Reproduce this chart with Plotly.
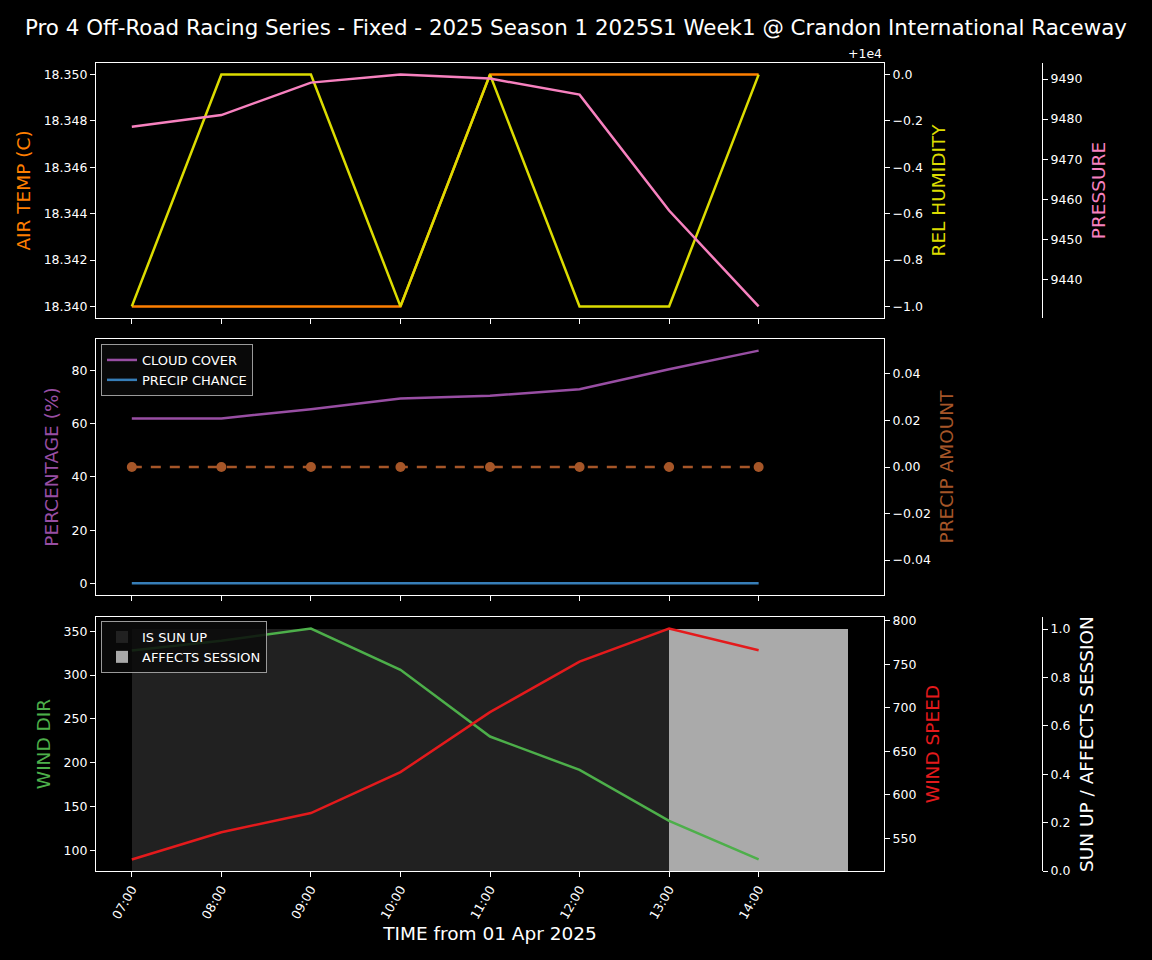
import plotly.graph_objects as go

# ---------------- data ----------------
times = ["2025-04-01 07:00", "2025-04-01 08:00", "2025-04-01 09:00", "2025-04-01 10:00",
         "2025-04-01 11:00", "2025-04-01 12:00", "2025-04-01 13:00", "2025-04-01 14:00"]
tick_labels = ["07:00", "08:00", "09:00", "10:00", "11:00", "12:00", "13:00", "14:00"]
air_temp = [18.34, 18.34, 18.34, 18.34, 18.35, 18.35, 18.35, 18.35]
rel_humidity = [9999, 10000, 10000, 9999, 10000, 9999, 9999, 10000]
pressure = [9478.1, 9481.0, 9489.1, 9491.1, 9490.1, 9486.1, 9457.2, 9433.3]
cloud_cover = [62, 62, 65.5, 69.5, 70.5, 73, 80.5, 87.5]
precip_chance = [0, 0, 0, 0, 0, 0, 0, 0]
precip_amount = [0, 0, 0, 0, 0, 0, 0, 0]
wind_dir = [328, 339, 353, 306, 230, 192, 134, 90]
wind_speed = [525.7, 557, 579, 626, 695, 753, 791, 766]
is_sun_up = [1, 1, 1, 1, 1, 1, 1, 1]
affects_session = [0, 0, 0, 0, 0, 0, 1, 1]
hum_ticks = [-1.0, -0.8, -0.6, -0.4, -0.2, 0.0]
hum_offset = 10000

title = "Pro 4 Off-Road Racing Series - Fixed - 2025 Season 1 2025S1 Week1 @ Crandon International Raceway"

C_TEMP = "#ff7f00"
C_HUM = "#dcdc00"
C_PRES = "#f781bf"
C_CLOUD = "#984ea3"
C_PCHANCE = "#377eb8"
C_PAMT = "#a65628"
C_WDIR = "#4daf4a"
C_WSPD = "#e41a1c"
FONT = "DejaVu Sans"


def pad(lo, hi, m=0.05):
    d = hi - lo
    return [lo - m * d, hi + m * d]


W, H = 1152, 960
xl, xr = 96 / W, 884 / W
xfar = 1042 / W
dom1 = [1 - 318 / H, 1 - 63 / H]
dom2 = [1 - 595 / H, 1 - 339 / H]
dom3 = [1 - 871 / H, 1 - 617 / H]

fig = go.Figure()
lw = 2.5

# panel 1
fig.add_trace(go.Scatter(x=times, y=air_temp, mode="lines", line=dict(color=C_TEMP, width=lw),
                         xaxis="x", yaxis="y", showlegend=False, name="AIR TEMP"))
fig.add_trace(go.Scatter(x=times, y=rel_humidity, mode="lines", line=dict(color=C_HUM, width=lw),
                         xaxis="x", yaxis="y2", showlegend=False, name="REL HUMIDITY"))
fig.add_trace(go.Scatter(x=times, y=pressure, mode="lines", line=dict(color=C_PRES, width=lw),
                         xaxis="x", yaxis="y3", showlegend=False, name="PRESSURE"))

# panel 2
fig.add_trace(go.Scatter(x=times, y=cloud_cover, mode="lines", line=dict(color=C_CLOUD, width=lw),
                         xaxis="x2", yaxis="y4", name="CLOUD COVER", legend="legend"))
fig.add_trace(go.Scatter(x=times, y=precip_chance, mode="lines", line=dict(color=C_PCHANCE, width=lw),
                         xaxis="x2", yaxis="y4", name="PRECIP CHANCE", legend="legend"))
fig.add_trace(go.Scatter(x=times, y=precip_amount, mode="lines+markers",
                         line=dict(color=C_PAMT, width=lw, dash="10px,9px"),
                         marker=dict(color=C_PAMT, size=10),
                         xaxis="x2", yaxis="y5", showlegend=False, name="PRECIP AMOUNT"))

# panel 3 (bars on base axis so they sit behind lines)
fig.add_trace(go.Bar(x=times, y=is_sun_up, width=3600000, offset=0, marker=dict(color="#212121", line=dict(width=0)),
                     xaxis="x3", yaxis="y7", name="IS SUN UP", legend="legend2"))
fig.add_trace(go.Bar(x=times, y=affects_session, width=3600000, offset=0, marker=dict(color="#aaaaaa", line=dict(width=0)),
                     xaxis="x3", yaxis="y7", name="AFFECTS SESSION", legend="legend2"))
fig.add_trace(go.Scatter(x=times, y=wind_dir, mode="lines", line=dict(color=C_WDIR, width=lw),
                         xaxis="x3", yaxis="y8", showlegend=False, name="WIND DIR"))
fig.add_trace(go.Scatter(x=times, y=wind_speed, mode="lines", line=dict(color=C_WSPD, width=lw),
                         xaxis="x3", yaxis="y9", showlegend=False, name="WIND SPEED"))

TS = 12.5
AS = 18.5
RS = 10  # right-side title standoff
tickfont = dict(family=FONT, size=TS, color="white")
common = dict(showgrid=False, zeroline=False, showline=True, linecolor="white", linewidth=1.2,
              ticks="outside", ticklen=5, tickwidth=1.2, tickcolor="white", tickfont=tickfont,
              automargin=False)


def ttl(text, color, standoff):
    return dict(text=text, font=dict(family=FONT, size=AS, color=color), standoff=standoff)


xrange_ = ["2025-04-01 06:36", "2025-04-01 15:24"]
xcommon = dict(common, type="date", range=xrange_, domain=[xl, xr], mirror=True,
               tickvals=times, ticktext=tick_labels)

layout = dict(
    width=W, height=H, paper_bgcolor="black", plot_bgcolor="black",
    margin=dict(l=0, r=0, t=0, b=0, autoexpand=False), barmode="overlay", bargap=0,
    title=dict(text=title, x=0.5, xanchor="center", y=1 - 28 / H, yanchor="middle",
               font=dict(family=FONT, size=21.4, color="white")),
    xaxis=dict(xcommon, anchor="y", showticklabels=False),
    xaxis2=dict(xcommon, anchor="y4", matches="x", showticklabels=False),
    xaxis3=dict(xcommon, anchor="y8", matches="x", tickangle=-60,
                title=dict(text="TIME from 01 Apr 2025", font=dict(family=FONT, size=18.5, color="white"), standoff=6)),
    # panel 1
    yaxis=dict(common, domain=dom1, anchor="x", side="left", range=pad(18.34, 18.35), dtick=0.002,
               tickformat=".3f", title=ttl("AIR TEMP (C)", C_TEMP, 8)),
    yaxis2=dict(common, domain=dom1, anchor="x", overlaying="y", side="right",
                range=pad(hum_offset - 1, hum_offset),
                tickvals=[hum_offset + t for t in hum_ticks],
                ticktext=[("%.1f" % t).replace("-", "\u2212") for t in hum_ticks],
                title=ttl("REL HUMIDITY", C_HUM, RS)),
    yaxis3=dict(common, domain=dom1, anchor="free", position=xfar, overlaying="y", side="right",
                range=pad(min(pressure), max(pressure)), dtick=10, title=ttl("PRESSURE", C_PRES, RS)),
    # panel 2
    yaxis4=dict(common, domain=dom2, anchor="x2", side="left", range=pad(0, max(cloud_cover)), dtick=20,
                title=ttl("PERCENTAGE (%)", C_CLOUD, 8)),
    yaxis5=dict(common, domain=dom2, anchor="x2", overlaying="y4", side="right", range=[-0.055, 0.055],
                dtick=0.02, tick0=0, tickformat=".2f", title=ttl("PRECIP AMOUNT", C_PAMT, RS)),
    yaxis6=dict(common, domain=dom2, anchor="free", position=xfar, overlaying="y4", side="right",
                range=[-0.055, 0.055], dtick=0.02, tick0=0, tickformat=".2f",
                title=ttl("ALLOW PRECIP", "#dddddd", RS)),
    # panel 3
    yaxis7=dict(common, domain=dom3, anchor="free", position=xfar, side="right", range=[0, 1.05],
                dtick=0.2, tickformat=".1f", title=ttl("SUN UP / AFFECTS SESSION", "white", RS)),
    yaxis8=dict(common, domain=dom3, anchor="x3", overlaying="y7", side="left",
                range=pad(min(wind_dir), max(wind_dir)), dtick=50, title=ttl("WIND DIR", C_WDIR, 8)),
    yaxis9=dict(common, domain=dom3, anchor="x3", overlaying="y7", side="right",
                range=pad(min(wind_speed), max(wind_speed)), dtick=50, title=ttl("WIND SPEED", C_WSPD, RS)),
    legend=dict(x=101 / W, y=1 - 344 / H, xanchor="left", yanchor="top", bgcolor="rgba(10,10,10,0.85)",
                bordercolor="#9a9a9a", borderwidth=1, font=dict(family=FONT, size=13, color="white")),
    legend2=dict(x=101 / W, y=1 - 621 / H, xanchor="left", yanchor="top", bgcolor="rgba(10,10,10,0.85)",
                 bordercolor="#9a9a9a", borderwidth=1, font=dict(family=FONT, size=13, color="white")),
    annotations=[dict(text="+1e4", xref="paper", yref="paper", x=xr, y=dom1[1], xanchor="right",
                      yanchor="bottom", showarrow=False, font=dict(family=FONT, size=TS, color="white"))],
)
fig.update_layout(layout)
fig.write_html("out.html", config={"displayModeBar": False},
               post_script="document.body.style.margin='0';document.body.style.padding='0';"
                           "document.body.style.background='black';"
                           "document.documentElement.style.background='black';")
